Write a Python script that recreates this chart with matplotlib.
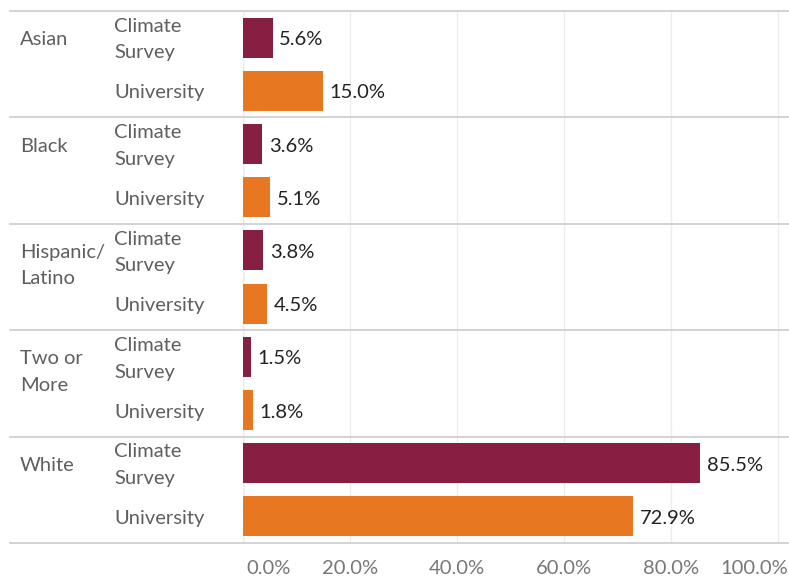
import matplotlib.pyplot as plt
from matplotlib.transforms import blended_transform_factory, offset_copy

groups = [["Asian"], ["Black"], ["Hispanic/", "Latino"], ["Two or", "More"], ["White"]]
sources = ["Climate Survey", "University"]
climate_survey = [5.6, 3.6, 3.8, 1.5, 85.5]
university = [15.0, 5.1, 4.5, 1.8, 72.9]
xticks = [0, 20, 40, 60, 80, 100]

maroon = "#861F41"
orange = "#E87722"

plt.rcParams["font.family"] = ["Lato", "DejaVu Sans"]

fig = plt.figure(figsize=(7.89, 5.77), dpi=100)
W, H = 789, 577
x0, x1, y0, y1 = 243, 789, 11, 543
ax = fig.add_axes([x0 / W, 1 - y1 / H, (x1 - x0) / W, (y1 - y0) / H])

rows_c = [2 * i for i in range(len(groups))]
rows_u = [2 * i + 1 for i in range(len(groups))]
ax.barh(rows_c, climate_survey, height=0.75, color=maroon, zorder=3)
ax.barh(rows_u, university, height=0.75, color=orange, zorder=3)

# nudge text down a little so it sits on the bar centres
down = offset_copy(ax.transData, fig=fig, y=-2, units="dots")
for r, v in zip(rows_c + rows_u, climate_survey + university):
    ax.text(v + 1.2, r, f"{v:.1f}%", va="center", ha="left", transform=down,
            fontsize=14.5, color="#222222", zorder=4)

ax.set_xlim(0, (x1 - x0) / 5.35)
ax.set_ylim(len(groups) * 2 - 0.5, -0.5)
ax.set_xticks(xticks)
ax.set_xticklabels([f"{t:.1f}%" for t in xticks], fontsize=14.5, color="#777777")
ax.tick_params(axis="x", length=0, pad=12)
# keep the end labels inside the figure
labels = ax.get_xticklabels()
labels[0].set_horizontalalignment("left")
labels[0].set_transform(offset_copy(labels[0].get_transform(), fig=fig, x=3, units="dots"))
labels[-1].set_horizontalalignment("right")
labels[-1].set_transform(offset_copy(labels[-1].get_transform(), fig=fig, x=10, units="dots"))
ax.set_yticks([])
for s in ax.spines.values():
    s.set_visible(False)
ax.grid(axis="x", color="#ececec", linewidth=1, zorder=0)
ax.axvline(0, color="#d4d4d4", linewidth=1, zorder=1)

# row labels on the left, placed in pixel x / data y
tr = offset_copy(blended_transform_factory(fig.transFigure, ax.transData),
                 fig=fig, y=-2, units="dots")
lab = dict(transform=tr, va="center", ha="left", fontsize=14.5, color="#5f5f5f")
for i, lines in enumerate(groups):
    for k, line in enumerate(lines):
        ax.text(20 / W, 2 * i + 0.5 * k, line, **lab)
    ax.text(114 / W, 2 * i - 0.25, "Climate", **lab)
    ax.text(114 / W, 2 * i + 0.25, "Survey", **lab)
    ax.text(114 / W, 2 * i + 1, "University", **lab)

# group separators
xmin = -(x0 - 10) / (x1 - x0)
for b in range(len(groups) + 1):
    ax.axhline(2 * b - 0.5, xmin=xmin, xmax=1, color="#cccccc",
               linewidth=1.2, clip_on=False, zorder=2)

fig.savefig("out.png", dpi=100)
